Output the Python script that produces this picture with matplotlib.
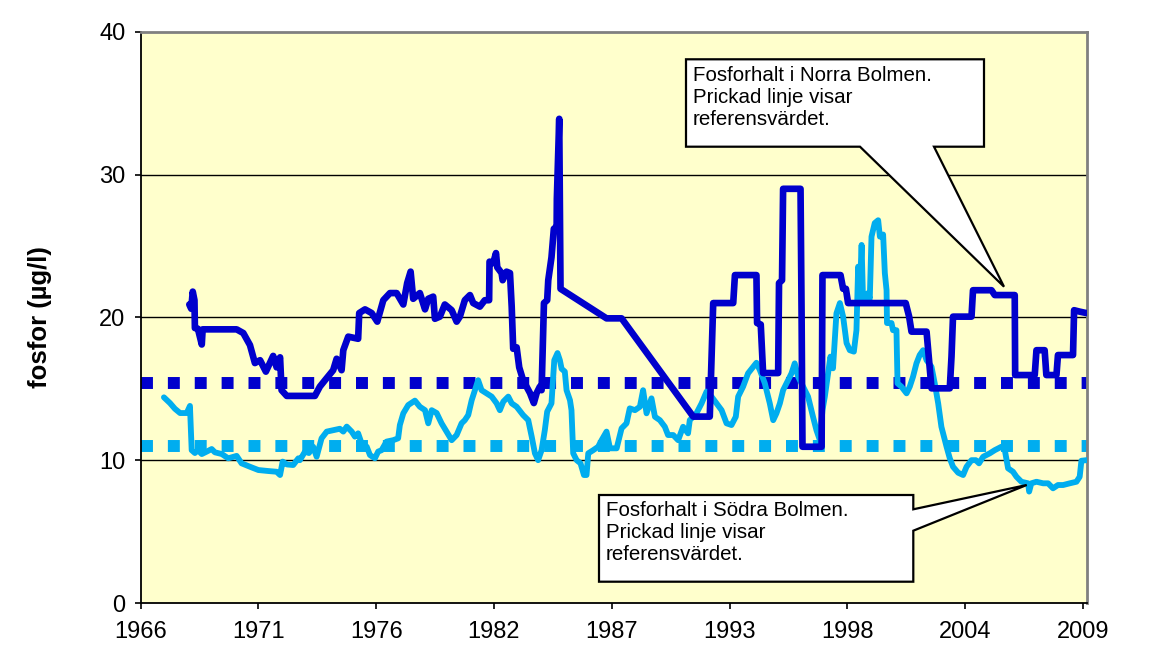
import matplotlib
matplotlib.use("Agg")
import matplotlib.pyplot as plt
from matplotlib.patches import Polygon

# ---------------- data (decimal years, µg/l) ----------------
norra_year = [1968.26, 1968.35, 1968.42, 1968.50, 1968.52, 1968.66, 1968.84, 1968.88, 1970.46,
              1970.77, 1971.08, 1971.31, 1971.55, 1971.82, 1972.16, 1972.32, 1972.48, 1972.55,
              1972.79, 1974.10, 1974.33, 1974.57, 1974.95, 1975.11, 1975.34, 1975.42, 1975.65,
              1976.11, 1976.16, 1976.43, 1976.74, 1977.00, 1977.28, 1977.59, 1977.90, 1978.21,
              1978.39, 1978.55, 1978.67, 1978.98, 1979.22, 1979.37, 1979.60, 1979.68, 1979.91,
              1980.14, 1980.46, 1980.69, 1980.84, 1981.07, 1981.31, 1981.46, 1981.77, 1982.00,
              1982.20, 1982.22, 1982.39, 1982.52, 1982.58, 1982.78, 1982.83, 1983.01, 1983.17,
              1983.25, 1983.32, 1983.48, 1983.60, 1983.78, 1983.94, 1984.10, 1984.28, 1984.41,
              1984.56, 1984.64, 1984.75, 1984.90, 1984.95, 1985.10, 1985.21, 1985.34, 1985.35,
              1985.46, 1985.52, 1987.66, 1988.36, 1991.69, 1992.46, 1992.62, 1993.55, 1993.63,
              1994.63, 1994.66, 1994.83, 1994.94, 1995.64, 1995.68, 1995.82, 1995.87, 1996.68,
              1996.73, 1996.77, 1997.66, 1997.70, 1998.54, 1998.66, 1998.79, 1998.89, 2001.57,
              2001.73, 2001.84, 2002.54, 2002.66, 2002.77, 2003.62, 2003.70, 2003.77, 2004.63,
              2004.70, 2005.56, 2005.71, 2006.64, 2006.66, 2007.57, 2007.65, 2008.03, 2008.11,
              2008.58, 2008.65, 2009.35, 2009.40, 2009.66, 2009.97]
norra_val = [20.9, 20.6, 21.8, 21.2, 19.25, 19.2, 18.1, 19.16, 19.16,
             18.9, 18.06, 16.8, 17.0, 16.2, 17.3, 16.5, 17.2, 14.9,
             14.5, 14.5, 15.15, 15.6, 16.3, 17.1, 16.3, 17.7, 18.65,
             18.5, 20.3, 20.56, 20.3, 19.7, 21.2, 21.7, 21.7, 20.9,
             22.4, 23.2, 21.3, 21.7, 20.56, 21.3, 21.45, 19.9, 20.05,
             20.9, 20.5, 19.7, 20.05, 21.2, 21.56, 21.0, 20.75, 21.2,
             21.2, 23.9, 23.8, 24.5, 23.5, 23.1, 22.6, 23.2, 23.1,
             20.75, 17.8, 17.9, 16.5, 15.6, 15.15, 14.7, 14.0, 14.7,
             15.15, 14.9, 21.0, 21.2, 22.6, 24.2, 26.2, 26.35, 28.3,
             33.9, 22.0, 19.93, 19.93, 13.05, 13.05, 21.0, 21.0, 22.96,
             22.96, 19.6, 19.5, 16.1, 16.1, 22.4, 22.6, 29.0, 29.0,
             20.05, 10.94, 10.94, 22.96, 22.96, 22.0, 22.0, 21.0, 21.0,
             20.05, 19.0, 19.0, 16.9, 15.03, 15.03, 17.25, 20.05, 20.05,
             21.9, 21.9, 21.56, 21.56, 15.96, 15.96, 17.7, 17.7, 15.96,
             15.96, 17.36, 17.36, 20.5, 20.4, 20.3]

sodra_year = [1967.08, 1967.36, 1967.59, 1967.83, 1968.14, 1968.29, 1968.37, 1968.52, 1968.66,
              1968.84, 1969.07, 1969.30, 1969.45, 1969.77, 1970.07, 1970.46, 1970.69, 1971.08,
              1971.47, 1971.93, 1972.32, 1972.48, 1972.60, 1972.80, 1973.09, 1973.33, 1973.40,
              1973.64, 1973.82, 1974.02, 1974.18, 1974.41, 1974.65, 1974.95, 1975.26, 1975.42,
              1975.58, 1975.81, 1975.96, 1976.11, 1976.27, 1976.51, 1976.66, 1976.89, 1977.04,
              1977.20, 1977.43, 1977.74, 1977.97, 1978.05, 1978.21, 1978.44, 1978.75, 1978.98,
              1979.22, 1979.37, 1979.53, 1979.76, 1979.99, 1980.22, 1980.46, 1980.69, 1980.92,
              1981.07, 1981.23, 1981.39, 1981.54, 1981.69, 1981.85, 1982.08, 1982.32, 1982.55,
              1982.70, 1982.86, 1983.09, 1983.25, 1983.48, 1983.78, 1984.02, 1984.18, 1984.33,
              1984.48, 1984.64, 1984.79, 1984.90, 1985.10, 1985.23, 1985.38, 1985.49, 1985.57,
              1985.72, 1985.80, 1985.96, 1986.03, 1986.11, 1986.27, 1986.45, 1986.61, 1986.73,
              1986.81, 1987.04, 1987.27, 1987.43, 1987.66, 1987.82, 1988.13, 1988.36, 1988.59,
              1988.74, 1988.98, 1989.21, 1989.36, 1989.52, 1989.75, 1989.91, 1990.14, 1990.37,
              1990.52, 1990.76, 1990.99, 1991.22, 1991.45, 1991.53, 1991.84, 1992.08, 1992.31,
              1992.54, 1992.77, 1993.01, 1993.24, 1993.47, 1993.67, 1993.78, 1994.01, 1994.24,
              1994.48, 1994.63, 1994.79, 1995.02, 1995.25, 1995.41, 1995.56, 1995.72, 1995.87,
              1996.03, 1996.26, 1996.41, 1996.57, 1996.80, 1997.03, 1997.26, 1997.42, 1997.58,
              1997.70, 1997.81, 1997.96, 1998.07, 1998.19, 1998.35, 1998.51, 1998.66, 1998.82,
              1998.97, 1999.16, 1999.28, 1999.36, 1999.44, 1999.52, 1999.59, 1999.75, 1999.82,
              1999.90, 1999.98, 2000.13, 2000.29, 2000.37, 2000.52, 2000.60, 2000.68, 2000.70,
              2000.91, 2000.98, 2001.14, 2001.19, 2001.37, 2001.61, 2001.76, 2001.91, 2002.07,
              2002.22, 2002.38, 2002.54, 2002.77, 2002.92, 2003.08, 2003.23, 2003.39, 2003.47,
              2003.62, 2003.77, 2004.01, 2004.24, 2004.40, 2004.63, 2004.83, 2004.98, 2005.17,
              2005.48, 2005.71, 2006.02, 2006.18, 2006.33, 2006.56, 2006.72, 2006.95, 2007.26,
              2007.31, 2007.41, 2007.65, 2007.96, 2008.19, 2008.42, 2008.65, 2008.89, 2009.20,
              2009.51, 2009.66, 2009.74, 2009.97]
sodra_val = [14.4, 14.0, 13.6, 13.3, 13.3, 13.8, 10.7, 10.5, 10.7,
             10.43, 10.6, 10.78, 10.55, 10.43, 10.13, 10.3, 9.78, 9.54,
             9.31, 9.24, 9.19, 8.96, 9.9, 9.7, 9.66, 10.13, 10.0,
             10.6, 10.5, 10.94, 10.24, 11.53, 12.0, 12.1, 12.2, 12.0,
             12.35, 12.0, 11.65, 11.88, 11.18, 10.94, 10.36, 10.13, 10.6,
             10.7, 11.3, 11.4, 11.53, 12.46, 13.28, 13.86, 14.17, 13.74,
             13.5, 12.58, 13.5, 13.3, 12.58, 12.0, 11.4, 11.76, 12.58,
             12.8, 13.16, 14.2, 14.9, 15.6, 14.9, 14.68, 14.45, 13.98,
             13.5, 14.1, 14.45, 13.98, 13.74, 13.16, 12.8, 11.65, 10.48,
             10.0, 10.7, 12.1, 13.4, 13.98, 17.0, 17.5, 17.0, 16.4,
             16.2, 14.9, 14.2, 13.5, 10.48, 10.0, 9.78, 8.96, 8.96,
             10.48, 10.7, 10.94, 11.4, 12.0, 10.83, 10.83, 12.23, 12.58,
             13.63, 13.5, 13.74, 14.9, 13.28, 14.33, 13.04, 12.8, 12.34,
             11.76, 11.76, 11.4, 12.34, 11.88, 12.8, 13.28, 13.98, 14.8,
             14.45, 13.98, 13.5, 12.58, 12.46, 13.04, 14.45, 15.15, 16.08,
             16.54, 16.82, 16.3, 15.38, 13.98, 12.8, 13.28, 13.98, 14.9,
             15.38, 16.08, 16.78, 15.84, 15.15, 14.45, 13.04, 12.1, 11.4,
             13.5, 14.45, 16.08, 17.25, 16.43, 20.28, 21.0, 20.05, 18.2,
             17.7, 17.6, 19.1, 23.55, 22.0, 25.07, 21.0, 21.1, 21.7,
             21.3, 25.65, 26.6, 26.8, 25.65, 25.8, 23.1, 21.9, 19.6,
             19.6, 19.1, 19.1, 15.38, 15.15, 14.68, 15.15, 15.84, 16.78,
             17.36, 17.7, 17.0, 16.54, 15.38, 13.98, 12.34, 11.4, 10.94,
             10.13, 9.54, 9.12, 8.96, 9.54, 10.0, 10.0, 9.78, 10.24,
             10.48, 10.7, 10.94, 10.7, 9.43, 9.19, 8.84, 8.49, 8.38,
             7.8, 8.38, 8.49, 8.38, 8.38, 8.03, 8.26, 8.26, 8.38,
             8.49, 8.84, 9.96, 10.0]

norra_ref = 15.4
sodra_ref = 11.0

tick_labels = ['1966', '1971', '1976', '1982', '1987', '1993', '1998', '2004', '2009']
y_ticks = [0, 10, 20, 30, 40]

norra_text = "Fosforhalt i Norra Bolmen.\nPrickad linje visar\nreferensvärdet."
sodra_text = "Fosforhalt i Södra Bolmen.\nPrickad linje visar\nreferensvärdet."

# ---------------- style ----------------
plt.rcParams['font.family'] = ['Liberation Sans', 'DejaVu Sans']
DARK = '#0000CC'
LIGHT = '#00ADEF'
BG = '#FFFFCC'

W, H = 1150, 661
fig = plt.figure(figsize=(W / 100, H / 100), dpi=100)
ax = fig.add_axes([140.7 / W, 1 - 603 / H, (1087 - 140.7) / W, (603 - 31.7) / H])
ax.set_facecolor(BG)

x0, x1 = 1966.0, 2010.0
step = 2000 / 365.25
ax.set_xlim(x0, x1)
ax.set_ylim(0, 40)

# reference (dotted) lines
ax.plot([x0, x1], [norra_ref, norra_ref], color=DARK, lw=8.6,
        linestyle=(0, (1, 1.25)), dash_capstyle='butt', zorder=2)
ax.plot([x0, x1], [sodra_ref, sodra_ref], color=LIGHT, lw=8.6,
        linestyle=(0, (1, 1.25)), dash_capstyle='butt', zorder=2)

ax.plot(sodra_year, sodra_val, color=LIGHT, lw=4.2, solid_joinstyle='round',
        solid_capstyle='round', zorder=3)
ax.plot(norra_year, norra_val, color=DARK, lw=4.8, solid_joinstyle='round',
        solid_capstyle='round', zorder=4)

# grid
for yv in [10, 20, 30]:
    ax.axhline(yv, color='black', lw=1.0, zorder=1)

ax.set_xticks([x0 + k * step for k in range(len(tick_labels))])
ax.set_xticklabels(tick_labels)
ax.set_yticks(y_ticks)
ax.set_yticklabels([str(v) for v in y_ticks])
ax.tick_params(axis='both', direction='out', length=4, width=1.2, labelsize=17,
               colors='black')
ax.tick_params(axis='x', pad=9)
ax.tick_params(axis='y', pad=7)

for s in ['left', 'bottom']:
    ax.spines[s].set_color('black')
    ax.spines[s].set_linewidth(1.3)
for s in ['top', 'right']:
    ax.spines[s].set_color('#808080')
    ax.spines[s].set_linewidth(2.0)

ax.set_ylabel('fosfor (µg/l)', fontsize=18.5, fontweight='bold')
ax.yaxis.set_label_coords(-0.094, 0.5)


# ---------------- callouts (figure pixel coords) ----------------
def fig_pt(px, py):
    return (px / W, 1 - py / H)


norra_shape = [(686, 59.3), (984, 59.3), (984, 146.7), (934, 146.7), (1004, 286.7),
               (860, 146.7), (686, 146.7)]
sodra_shape = [(599, 495), (913.3, 495), (913.3, 509.3), (1026.7, 485), (913.3, 530.7),
               (913.3, 581.7), (599, 581.7)]
for shape in (norra_shape, sodra_shape):
    poly = Polygon([fig_pt(*p) for p in shape], closed=True, facecolor='white',
                   edgecolor='black', lw=1.6, transform=fig.transFigure, zorder=10)
    fig.patches.append(poly)

fig.text(*fig_pt(693, 66), norra_text, fontsize=14.8, va='top', ha='left',
         linespacing=1.2, zorder=11)
fig.text(*fig_pt(606, 501), sodra_text, fontsize=14.8, va='top', ha='left',
         linespacing=1.2, zorder=11)

fig.savefig('out.png', dpi=100)
